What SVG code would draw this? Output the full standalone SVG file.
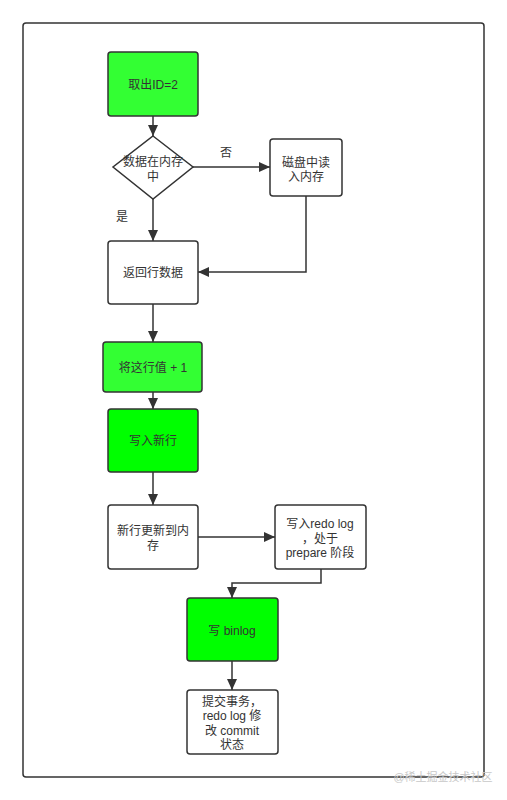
<svg xmlns="http://www.w3.org/2000/svg" width="507" height="800" viewBox="0 0 507 800">
<style>
.n{stroke:#333;stroke-width:1.5}
.w{fill:#fff}
.g1{fill:#33ff33}
.g2{fill:#00ff00}
text{font-family:"Liberation Sans","Noto Sans CJK SC",sans-serif;font-size:12px;fill:#333;text-anchor:middle;dominant-baseline:central}
.c{fill:none;stroke:#333;stroke-width:1.5}
.wm{fill:#c8c8c8;font-size:11px}
</style>
<defs>
<marker id="a" markerUnits="userSpaceOnUse" markerWidth="12" markerHeight="10" refX="11" refY="5" orient="auto">
<path d="M0,0 L11,5 L0,10 Z" fill="#333"/>
</marker>
</defs>
<rect x="23" y="23" width="461" height="754" rx="3" fill="#fff" stroke="#333" stroke-width="1.5"/>
<g id="connectors">
<path class="c" d="M153,116 V136" marker-end="url(#a)"/>
<path class="c" d="M193,167 H270" marker-end="url(#a)"/>
<path class="c" d="M153,199 V241" marker-end="url(#a)"/>
<path class="c" d="M306,196 V272 H198" marker-end="url(#a)"/>
<path class="c" d="M153,304 V342" marker-end="url(#a)"/>
<path class="c" d="M153,392 V409" marker-end="url(#a)"/>
<path class="c" d="M153,472 V505" marker-end="url(#a)"/>
<path class="c" d="M198,537 H275" marker-end="url(#a)"/>
<path class="c" d="M321,569 V583 H232 V598" marker-end="url(#a)"/>
<path class="c" d="M232,661 V690" marker-end="url(#a)"/>
<text x="226" y="153">否</text>
<text x="122" y="217">是</text>
</g>
<g id="n1"><rect class="n g1" x="108" y="52" width="90" height="64" rx="3"/><text x="153" y="85">取出ID=2</text></g>
<g id="n2"><path class="n w" d="M153,136 L193,167 L153,199 L113,167 Z"/><text x="153" y="162">数据在内存</text><text x="153" y="177">中</text></g>
<g id="n3"><rect class="n w" x="270" y="139" width="72" height="57" rx="3"/><text x="306" y="163">磁盘中读</text><text x="306" y="177">入内存</text></g>
<g id="n4"><rect class="n w" x="108" y="241" width="90" height="63" rx="3"/><text x="153" y="273">返回行数据</text></g>
<g id="n5"><rect class="n g1" x="103" y="342" width="99" height="50" rx="3"/><text x="153" y="368">将这行值 + 1</text></g>
<g id="n6"><rect class="n g2" x="108" y="409" width="90" height="63" rx="3"/><text x="153" y="441">写入新行</text></g>
<g id="n7"><rect class="n w" x="108" y="505" width="90" height="64" rx="3"/><text x="153" y="531">新行更新到内</text><text x="153" y="546">存</text></g>
<g id="n8"><rect class="n w" x="275" y="505" width="91" height="64" rx="3"/><text x="320" y="524">写入redo log</text><text x="320" y="539">，处于</text><text x="320" y="553">prepare 阶段</text></g>
<g id="n9"><rect class="n g2" x="187" y="598" width="91" height="63" rx="3"/><text x="232" y="631">写 binlog</text></g>
<g id="n10"><rect class="n w" x="187" y="690" width="91" height="64" rx="3"/><text x="232" y="702">提交事务，</text><text x="232" y="716">redo log 修</text><text x="232" y="731">改 commit</text><text x="232" y="745">状态</text></g>
<text class="wm" x="443" y="777">@稀土掘金技术社区</text>
</svg>
